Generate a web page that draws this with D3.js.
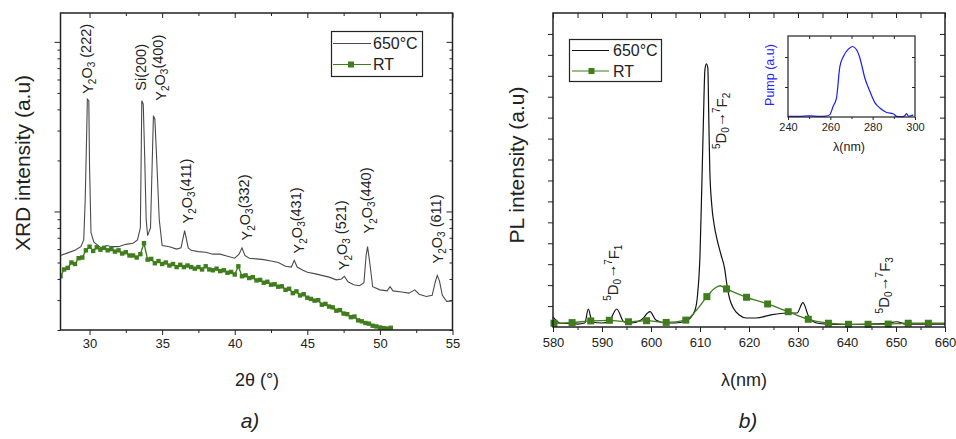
<!DOCTYPE html>
<html><head><meta charset="utf-8">
<script src="https://cdn.jsdelivr.net/npm/d3@7"></script>
<style>body{margin:0;background:#fff} text{font-family:"Liberation Sans",Arial,sans-serif}</style>
</head><body><svg id="c" width="956" height="439" xmlns="http://www.w3.org/2000/svg"></svg>
<script>
// ---------- DATA ----------
// Panel a) XRD, 650°C
const xrdX = [28.0,28.5,29.0,29.4,29.6,29.7,29.8,29.85,29.95,30.0,30.1,30.3,30.8,31.2,31.5,32.0,32.5,33.0,33.3,33.5,33.6,33.7,33.8,33.9,34.0,34.2,34.4,34.5,34.6,34.8,35.0,35.5,36.0,36.3,36.55,36.8,37.0,37.5,38.0,38.5,39.0,39.5,40.0,40.3,40.5,40.7,41.0,41.5,42.0,42.5,43.0,43.5,43.9,44.1,44.3,44.7,45.0,45.5,46.0,46.5,47.0,47.35,47.55,47.8,48.2,48.6,48.9,49.05,49.15,49.3,49.5,50.0,50.5,50.7,50.9,51.5,52.0,52.4,52.7,53.2,53.6,53.8,53.95,54.1,54.3,54.6,55.0];
const xrd650 = [5.5,5.7,5.9,6.2,6.8,11.6,28,46,45,18.7,7.5,6.6,6.1,6.3,6.2,6.2,6.4,6.5,6.8,8.0,45,43,20.8,9,7.2,8,36.7,35,22.8,9,6.3,6.2,6.0,6.1,7.7,6.1,5.9,5.8,5.75,5.6,5.6,5.45,5.3,5.6,6.1,5.5,5.3,5.25,5.2,5.1,5.0,4.75,4.7,5.15,4.7,4.5,4.38,4.3,4.2,4.1,3.95,4.0,4.15,3.85,3.7,3.65,3.8,5.5,6.2,5.0,3.6,3.45,3.4,3.6,3.4,3.35,3.3,3.45,3.25,3.15,3.2,3.8,4.2,3.9,3.2,2.95,2.97];
// Panel a) XRD, RT
const xrdRtX = [28.0,28.25,28.5,28.75,29.0,29.25,29.5,29.75,30.0,30.25,30.5,30.75,31.0,31.25,31.5,31.75,32.0,32.25,32.5,32.75,33.0,33.25,33.5,33.75,34.0,34.25,34.5,34.75,35.0,35.25,35.5,35.75,36.0,36.25,36.5,36.75,37.0,37.25,37.5,37.75,38.0,38.25,38.5,38.75,39.0,39.25,39.5,39.75,40.0,40.25,40.5,40.75,41.0,41.25,41.5,41.75,42.0,42.25,42.5,42.75,43.0,43.25,43.5,43.75,44.0,44.25,44.5,44.75,45.0,45.25,45.5,45.75,46.0,46.25,46.5,46.75,47.0,47.25,47.5,47.75,48.0,48.25,48.5,48.75,49.0,49.25,49.5,49.75,50.0,50.25,50.5,50.75];
const xrdRt = [4.15,4.55,4.65,5.0,4.9,5.3,5.35,5.9,6.2,5.85,6.15,5.95,6.1,5.9,6.0,5.8,5.9,5.65,5.75,5.5,5.5,5.35,5.6,6.5,5.2,5.25,4.95,5.1,4.9,5.0,4.8,4.9,4.7,4.85,4.7,4.8,4.7,4.6,4.7,4.55,4.75,4.55,4.5,4.6,4.45,4.5,4.35,4.4,4.25,4.75,4.15,4.2,4.05,4.1,3.92,3.95,3.8,3.85,3.7,3.72,3.6,3.62,3.45,3.5,3.3,3.38,3.2,3.25,3.1,3.05,2.98,3.0,2.82,2.85,2.75,2.72,2.6,2.62,2.5,2.48,2.38,2.4,2.28,2.25,2.2,2.18,2.12,2.1,2.07,2.05,2.04,2.06];
const xrdTicks = [30,35,40,45,50,55];
const xrdPeaks = [
  {x:29.9,  y:49.4, pre:"Y", s1:"2", mid:"O", s2:"3", post:" (222)"},
  {x:33.55, y:51.5, pre:"Si(200)", s1:"", mid:"", s2:"", post:""},
  {x:34.9,  y:45.0, pre:"Y", s1:"2", mid:"O", s2:"3", post:"(400)"},
  {x:36.8,  y:8.5,  pre:"Y", s1:"2", mid:"O", s2:"3", post:"(411)"},
  {x:40.8,  y:6.75, pre:"Y", s1:"2", mid:"O", s2:"3", post:"(332)"},
  {x:44.4,  y:5.66, pre:"Y", s1:"2", mid:"O", s2:"3", post:"(431)"},
  {x:47.5,  y:4.5,  pre:"Y", s1:"2", mid:"O", s2:"3", post:" (521)"},
  {x:49.2,  y:7.42, pre:"Y", s1:"2", mid:"O", s2:"3", post:"(440)"},
  {x:54.0,  y:4.94, pre:"Y", s1:"2", mid:"O", s2:"3", post:" (611)"}
];
// Panel b) PL, 650°C
const plX = [580,581.4,583,585,586.5,587.2,588,590,591.5,593,594.5,596,598,599.8,601,603,605,607,608,609,609.5,610,610.4,610.7,611,611.3,611.6,611.8,612,612.4,612.9,613.5,614.3,615,615.5,616,616.8,618,619.5,621.5,624.3,627.7,629.8,631,632.2,633.8,636,640,645,648,650.1,652,656,660];
const pl650 = [0.48,0.19,0.17,0.14,0.19,0.86,0.24,0.19,0.29,0.86,0.24,0.19,0.33,0.73,0.33,0.19,0.19,0.29,0.43,0.81,1.53,3.44,7.02,9.89,12.28,12.57,12.37,9.89,7.5,5.83,4.87,4.16,3.44,2.82,2.01,1.39,0.91,0.57,0.43,0.43,0.57,0.67,0.67,1.16,0.49,0.19,0.14,0.12,0.14,0.17,0.25,0.14,0.14,0.14];
// Panel b) PL, RT (markers)
const plRtX = [580.2,583.9,587.7,591.5,595.4,599.1,603.1,607.1,611.4,615.4,619.5,623.8,628.0,632.1,636.2,640.3,644.3,648.4,652.5,656.6];
const plRt = [0.18,0.21,0.29,0.32,0.25,0.30,0.22,0.33,1.45,1.82,1.42,1.10,0.73,0.37,0.18,0.13,0.13,0.14,0.18,0.18];
// Panel b) PL, RT (smoothed line)
const plRtLineX = [580,580.2,583.9,587.7,591.5,595.4,599.1,603.1,607.1,609.3,611.4,613.0,614.1,615.4,619.5,623.8,628.0,632.1,636.2,640.3,644.3,648.4,652.5,656.6,660];
const plRtLine = [0.2,0.18,0.21,0.29,0.32,0.25,0.30,0.22,0.33,0.81,1.45,1.85,1.97,1.82,1.42,1.10,0.73,0.37,0.18,0.13,0.13,0.14,0.18,0.18,0.18];
const plTicks = [580,590,600,610,620,630,640,650,660];
// Inset: pump spectrum
const pumpX = [240,245,250,255,258,259.8,261.3,262.9,264.5,266.1,268.5,270.5,272.4,274.0,276.3,278.7,281.1,283.4,286.6,289.7,291.3,293.7,295,296.0,297.0,298.0,299.2];
const pump = [0.02,0.02,0.04,0.02,0.03,0.08,0.35,0.63,1.68,2.01,2.26,2.35,2.24,1.96,1.30,0.85,0.47,0.30,0.15,0.11,0.02,0.01,0.03,0.11,0.02,0.04,0.06];
const pumpTicks = [240,260,280,300];
const legendLabels = ["650°C","RT"];

// ---------- DRAW ----------
const svg = d3.select("#c");
const GREEN = "#3f7d1d", DARK = "#222";
const FONT = '"Liberation Sans", Arial, sans-serif';

function ax(g, gen, tr, fs){
  const a = g.append("g").attr("transform", tr).call(gen);
  a.select(".domain").remove();
  a.selectAll("line").attr("stroke", DARK).attr("stroke-width", 1);
  a.selectAll("text").attr("font-family", FONT).attr("font-size", fs||13).attr("fill", DARK);
  return a;
}

// ===== Panel a =====
const xA = d3.scaleLinear().domain([28,55]).range([60.5,452.5]);
const yA = d3.scaleLog().domain([2,148]).range([330,13]);
const gA = svg.append("g");
const aMinorX = [32.5,37.5,42.5,47.5,52.5];
const aMajY = [10,100];
const aMinY = [2,3,4,5,6,7,8,9,20,30,40,50,60,70,80,90];

ax(gA, d3.axisBottom(xA).tickValues(xrdTicks).tickSize(5).tickPadding(4).tickFormat(d3.format("d")), "translate(0,330)");
ax(gA, d3.axisBottom(xA).tickValues(aMinorX).tickSize(3).tickFormat(""), "translate(0,330)");
ax(gA, d3.axisTop(xA).tickValues(xrdTicks).tickSize(-5).tickFormat(""), "translate(0,13)");
ax(gA, d3.axisTop(xA).tickValues(aMinorX).tickSize(-3).tickFormat(""), "translate(0,13)");
ax(gA, d3.axisLeft(yA).tickValues(aMajY).tickSize(6).tickFormat(""), "translate(60.5,0)");
ax(gA, d3.axisLeft(yA).tickValues(aMinY).tickSize(3).tickFormat(""), "translate(60.5,0)");
ax(gA, d3.axisRight(yA).tickValues(aMajY).tickSize(-6).tickFormat(""), "translate(452.5,0)");
ax(gA, d3.axisRight(yA).tickValues(aMinY).tickSize(-3).tickFormat(""), "translate(452.5,0)");

svg.append("clipPath").attr("id","clipA").append("rect")
  .attr("x",60.5).attr("y",13).attr("width",392).attr("height",317);

const lineA = d3.line().x(d=>xA(d[0])).y(d=>yA(d[1]));
gA.append("path").datum(xrdX.map((x,i)=>[x,xrd650[i]]))
  .attr("d", lineA).attr("fill","none").attr("stroke","#4a4a4a").attr("stroke-width",1.1)
  .attr("clip-path","url(#clipA)");
const rtA = xrdRtX.map((x,i)=>[x,xrdRt[i]]);
gA.append("path").datum(rtA).attr("d", lineA).attr("fill","none")
  .attr("stroke",GREEN).attr("stroke-width",1.4).attr("clip-path","url(#clipA)");
gA.append("g").selectAll("rect").data(rtA).join("rect")
  .attr("x",d=>xA(d[0])-2.2).attr("y",d=>yA(d[1])-2.2).attr("width",4.4).attr("height",4.4)
  .attr("fill",GREEN).attr("clip-path","url(#clipA)");

gA.append("rect").attr("x",60.5).attr("y",13).attr("width",392).attr("height",317)
  .attr("fill","none").attr("stroke",DARK).attr("stroke-width",1.5);

// peak labels
xrdPeaks.forEach(p=>{
  const t = gA.append("text")
    .attr("transform",`translate(${xA(p.x)},${yA(p.y)}) rotate(-90)`)
    .attr("dy","0.36em").attr("font-size",14.5).attr("fill",DARK).attr("font-family",FONT);
  t.append("tspan").text(p.pre);
  if(p.s1){
    t.append("tspan").attr("font-size",10).attr("dy","0.3em").text(p.s1);
    t.append("tspan").attr("dy","-0.3em").text(p.mid);
    t.append("tspan").attr("font-size",10).attr("dy","0.3em").text(p.s2);
    t.append("tspan").attr("dy","-0.3em").text(p.post);
  }
});

// legend a
const legA = gA.append("g");
legA.append("rect").attr("x",331.5).attr("y",31.5).attr("width",91).attr("height",45)
  .attr("fill","#fff").attr("stroke",DARK).attr("stroke-width",1.2);
legA.append("line").attr("x1",333).attr("x2",371).attr("y1",43.5).attr("y2",43.5).attr("stroke","#4a4a4a").attr("stroke-width",1);
legA.append("line").attr("x1",333).attr("x2",371).attr("y1",64.5).attr("y2",64.5).attr("stroke",GREEN).attr("stroke-width",1.2);
legA.append("rect").attr("x",348).attr("y",61.5).attr("width",6).attr("height",6).attr("fill",GREEN);
legA.selectAll("text").data(legendLabels).join("text")
  .attr("x",373).attr("y",(d,i)=>49+i*21).attr("font-size",16).attr("fill",DARK).attr("font-family",FONT).text(d=>d);

// axis titles a
svg.append("text").attr("transform","translate(30,163) rotate(-90)").attr("text-anchor","middle")
  .attr("font-size",21).attr("fill",DARK).attr("font-family",FONT).text("XRD intensity (a.u)");
svg.append("text").attr("x",257).attr("y",386).attr("text-anchor","middle")
  .attr("font-size",18).attr("fill",DARK).attr("font-family",FONT).text("2θ (°)");
svg.append("text").attr("x",250).attr("y",428).attr("text-anchor","middle").attr("font-style","italic")
  .attr("font-size",21).attr("fill",DARK).attr("font-family",FONT).text("a)");

// ===== Panel b =====
const xB = d3.scaleLinear().domain([580,660]).range([553,945]);
const yB = d3.scaleLinear().domain([0,15]).range([327,13]);
const gB = svg.append("g");
const bMinorX = [585,595,605,615,625,635,645,655];
const bY = d3.range(1,15);
ax(gB, d3.axisBottom(xB).tickValues(plTicks).tickSize(5).tickPadding(6).tickFormat(d3.format("d")), "translate(0,327)");
ax(gB, d3.axisBottom(xB).tickValues(bMinorX).tickSize(3).tickFormat(""), "translate(0,327)");
ax(gB, d3.axisTop(xB).tickValues(plTicks.concat(bMinorX)).tickSize(-5).tickFormat(""), "translate(0,13)");
ax(gB, d3.axisLeft(yB).tickValues(bY).tickSize(5).tickFormat(""), "translate(553,0)");
ax(gB, d3.axisRight(yB).tickValues(bY).tickSize(-5).tickFormat(""), "translate(945,0)");

const lineB = d3.line().x(d=>xB(d[0])).y(d=>yB(d[1])).curve(d3.curveMonotoneX);
gB.append("path").datum(plX.map((x,i)=>[x,pl650[i]])).attr("d",lineB)
  .attr("fill","none").attr("stroke","#111").attr("stroke-width",1.2);
gB.append("path").datum(plRtLineX.map((x,i)=>[x,plRtLine[i]])).attr("d",lineB)
  .attr("fill","none").attr("stroke",GREEN).attr("stroke-width",1.3);
gB.append("g").selectAll("rect").data(plRtX.map((x,i)=>[x,plRt[i]])).join("rect")
  .attr("x",d=>xB(d[0])-3.5).attr("y",d=>yB(d[1])-3.5).attr("width",7).attr("height",7).attr("fill",GREEN);

gB.append("rect").attr("x",553).attr("y",13).attr("width",392).attr("height",314)
  .attr("fill","none").attr("stroke",DARK).attr("stroke-width",1.5);

// transition labels
function transLabel(px, py, f){
  const t = gB.append("text").attr("transform",`translate(${px},${py}) rotate(-90)`)
    .attr("dy","0.36em").attr("font-size",15).attr("fill",DARK).attr("font-family",FONT);
  t.append("tspan").attr("font-size",10).attr("dy","-0.45em").text("5");
  t.append("tspan").attr("dy","0.45em").text("D");
  t.append("tspan").attr("font-size",10).attr("dy","0.3em").text("0");
  t.append("tspan").attr("dy","-0.3em").attr("letter-spacing","-1").text("\u2192");
  t.append("tspan").attr("font-size",10).attr("dy","-0.45em").text("7");
  t.append("tspan").attr("dy","0.45em").text("F");
  t.append("tspan").attr("font-size",10).attr("dy","0.3em").text(f);
}
transLabel(xB(592.8), yB(1.25), "1");
transLabel(xB(614.9), yB(8.5), "2");
transLabel(xB(648.2), yB(0.65), "3");

// legend b
const legB = gB.append("g");
legB.append("rect").attr("x",569.5).attr("y",39.5).attr("width",92).attr("height",42)
  .attr("fill","#fff").attr("stroke",DARK).attr("stroke-width",1.2);
legB.append("line").attr("x1",572).attr("x2",609).attr("y1",50.5).attr("y2",50.5).attr("stroke","#111").attr("stroke-width",1);
legB.append("line").attr("x1",572).attr("x2",609).attr("y1",71).attr("y2",71).attr("stroke",GREEN).attr("stroke-width",1.2);
legB.append("rect").attr("x",588.5).attr("y",68).attr("width",6).attr("height",6).attr("fill",GREEN);
legB.selectAll("text").data(legendLabels).join("text")
  .attr("x",613).attr("y",(d,i)=>56+i*21).attr("font-size",16).attr("fill",DARK).attr("font-family",FONT).text(d=>d);

// inset
const xC = d3.scaleLinear().domain([240,300]).range([788,915]);
const yC = d3.scaleLinear().domain([0,2.7]).range([117,36]);
const gC = svg.append("g");
ax(gC, d3.axisBottom(xC).tickValues(pumpTicks).tickSize(3).tickPadding(3).tickFormat(d3.format("d")), "translate(0,117)", 11);
ax(gC, d3.axisBottom(xC).tickValues([250,270,290]).tickSize(2).tickFormat(""), "translate(0,117)");
ax(gC, d3.axisLeft(yC).tickValues([1,2]).tickSize(3).tickFormat(""), "translate(788,0)");
ax(gC, d3.axisRight(yC).tickValues([1,2]).tickSize(-3).tickFormat(""), "translate(915,0)");
ax(gC, d3.axisTop(xC).tickValues([250,260,270,280,290]).tickSize(-3).tickFormat(""), "translate(0,36)");
gC.append("path").datum(pumpX.map((x,i)=>[x,pump[i]]))
  .attr("d", d3.line().x(d=>xC(d[0])).y(d=>yC(d[1])).curve(d3.curveMonotoneX))
  .attr("fill","none").attr("stroke","#1a1aff").attr("stroke-width",1.2);
gC.append("rect").attr("x",788).attr("y",36).attr("width",127).attr("height",81)
  .attr("fill","none").attr("stroke",DARK).attr("stroke-width",1.2);
svg.append("text").attr("transform","translate(774,75) rotate(-90)").attr("text-anchor","middle")
  .attr("font-size",12.5).attr("fill","#2222ff").attr("font-family",FONT).text("Pump (a.u)");
svg.append("text").attr("x",849).attr("y",151).attr("text-anchor","middle")
  .attr("font-size",12.5).attr("fill",DARK).attr("font-family",FONT).text("λ(nm)");

// axis titles b
svg.append("text").attr("transform","translate(524,165) rotate(-90)").attr("text-anchor","middle")
  .attr("font-size",21).attr("fill",DARK).attr("font-family",FONT).text("PL intensity (a.u)");
svg.append("text").attr("x",744).attr("y",386).attr("text-anchor","middle")
  .attr("font-size",18).attr("fill",DARK).attr("font-family",FONT).text("λ(nm)");
svg.append("text").attr("x",748).attr("y",428).attr("text-anchor","middle").attr("font-style","italic")
  .attr("font-size",21).attr("fill",DARK).attr("font-family",FONT).text("b)");
</script></body></html>
